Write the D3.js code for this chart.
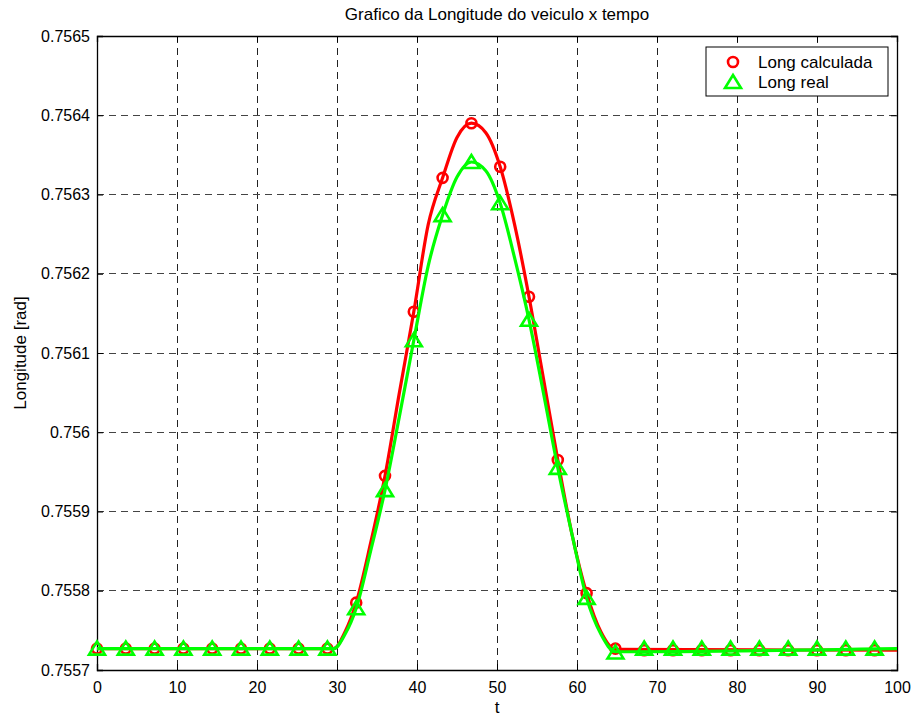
<!DOCTYPE html>
<html>
<head>
<meta charset="utf-8">
<script src="https://cdn.jsdelivr.net/npm/d3@7"></script>
<style>
  body { margin: 0; background: #fff; }
  text { font-family: "Liberation Sans", Arial, sans-serif; }
</style>
</head>
<body>
<div id="chart"></div>
<script>
// curve samples
var tCurve = [0, 29.6, 31, 32.4, 34.2, 36, 37.8, 39.6, 41.4, 43.2, 45, 46.8, 48.6, 50.4, 52.2, 54, 55.8, 57.6, 59.4, 61.2, 63, 64.8, 100];
var longCalc = [0.755727, 0.755727, 0.755748, 0.755785, 0.755860, 0.755945, 0.756050, 0.756152, 0.756262, 0.756321, 0.756372, 0.756390, 0.756378, 0.756335, 0.756262, 0.756171, 0.756068, 0.755965, 0.755870, 0.755797, 0.755748, 0.755726, 0.755725];
var longReal = [0.755727, 0.755727, 0.755745, 0.755778, 0.755850, 0.755927, 0.756020, 0.756116, 0.756210, 0.756274, 0.756322, 0.756341, 0.756330, 0.756289, 0.756220, 0.756142, 0.756050, 0.755955, 0.755870, 0.755791, 0.755745, 0.755723, 0.755727];

// marker positions
var tMarkers = [0, 3.6, 7.2, 10.8, 14.4, 18, 21.6, 25.2, 28.8, 32.4, 36, 39.6, 43.2, 46.8, 50.4, 54, 57.6, 61.2, 64.8, 68.4, 72, 75.6, 79.2, 82.8, 86.4, 90, 93.6, 97.2];
var calcMarkers = [0.755727, 0.755727, 0.755727, 0.755727, 0.755727, 0.755727, 0.755727, 0.755727, 0.755727, 0.755785, 0.755945, 0.756152, 0.756321, 0.756390, 0.756335, 0.756171, 0.755965, 0.755797, 0.755727, 0.755725, 0.755725, 0.755725, 0.755725, 0.755725, 0.755725, 0.755725, 0.755725, 0.755725];
var realMarkers = [0.755727, 0.755727, 0.755727, 0.755727, 0.755727, 0.755727, 0.755727, 0.755727, 0.755727, 0.755778, 0.755927, 0.756116, 0.756274, 0.756341, 0.756289, 0.756142, 0.755955, 0.755791, 0.755722, 0.755727, 0.755727, 0.755727, 0.755727, 0.755727, 0.755727, 0.755727, 0.755727, 0.755727];

var xTicks = [0, 10, 20, 30, 40, 50, 60, 70, 80, 90, 100];
var yTicks = [0.7557, 0.7558, 0.7559, 0.756, 0.7561, 0.7562, 0.7563, 0.7564, 0.7565];
var seriesNames = ["Long calculada", "Long real"];

var W = 915, H = 718;
var margin = {top: 36, right: 18, bottom: 48, left: 97};
var width = W - margin.left - margin.right,
    height = H - margin.top - margin.bottom;

var svg = d3.select("#chart").append("svg")
  .attr("width", W).attr("height", H);

var g = svg.append("g")
  .attr("transform", "translate(" + margin.left + "," + margin.top + ")");

var x = d3.scaleLinear().domain([0, 100]).range([0, width]);
var y = d3.scaleLinear().domain([0.7557, 0.7565]).range([height, 0]);

g.append("rect").attr("width", width).attr("height", height).attr("fill", "#fff");

// grid
g.selectAll(".gx").data(xTicks.slice(1, -1)).enter().append("line")
  .attr("x1", d => x(d)).attr("x2", d => x(d))
  .attr("y1", 0).attr("y2", height)
  .attr("stroke", "#222").attr("stroke-width", 1)
  .attr("stroke-dasharray", "7,5")
  .attr("shape-rendering", "crispEdges");
g.selectAll(".gy").data(yTicks.slice(1, -1)).enter().append("line")
  .attr("x1", 0).attr("x2", width)
  .attr("y1", d => y(d)).attr("y2", d => y(d))
  .attr("stroke", "#444").attr("stroke-width", 1)
  .attr("stroke-dasharray", "7,5")
  .attr("shape-rendering", "crispEdges");

// axes
var xAxis = g.append("g").attr("transform", "translate(0," + height + ")")
  .call(d3.axisBottom(x).tickValues(xTicks).tickSize(-6).tickPadding(12).tickFormat(d3.format("d")));
var yAxis = g.append("g")
  .call(d3.axisLeft(y).tickValues(yTicks).tickSize(-6).tickPadding(7).tickFormat(d => String(+d.toFixed(4))));
g.append("g").call(d3.axisTop(x).tickValues(xTicks).tickSize(-6).tickFormat(""));
g.append("g").attr("transform", "translate(" + width + ",0)")
  .call(d3.axisRight(y).tickValues(yTicks).tickSize(-6).tickFormat(""));

g.selectAll(".domain").attr("stroke", "#000").attr("stroke-width", 1.3);
g.selectAll(".tick line").attr("stroke", "#000");
g.selectAll(".tick text").attr("font-size", 16).attr("fill", "#000")
  .style("font-family", "'Liberation Sans', Arial, sans-serif");

// lines
var line = d3.line().x((d, i) => x(tCurve[i])).y(d => y(d)).curve(d3.curveMonotoneX);
var plot = g.append("g");

function drawCircles(vals) {
  plot.selectAll(null).data(vals).enter().append("circle")
    .attr("cx", (d, i) => x(tMarkers[i])).attr("cy", d => y(d))
    .attr("r", 5).attr("fill", "none")
    .attr("stroke", "#ff0000").attr("stroke-width", 2.6);
}
function triPath(cx, cy) {
  return "M" + (cx - 8) + "," + (cy + 6) + "L" + cx + "," + (cy - 7) + "L" + (cx + 8) + "," + (cy + 6) + "Z";
}
function drawTris(vals) {
  plot.selectAll(null).data(vals).enter().append("path")
    .attr("d", (d, i) => triPath(x(tMarkers[i]), y(d)))
    .attr("fill", "none")
    .attr("stroke", "#00ff00").attr("stroke-width", 2.6)
    .attr("stroke-linejoin", "miter");
}

plot.append("path").datum(longCalc).attr("d", line)
  .attr("fill", "none").attr("stroke", "#ff0000").attr("stroke-width", 3.2);
drawCircles(calcMarkers);
plot.append("path").datum(longReal).attr("d", line)
  .attr("fill", "none").attr("stroke", "#00ff00").attr("stroke-width", 3.2);
drawTris(realMarkers);

// title and labels
svg.append("text").attr("x", margin.left + width / 2).attr("y", 20)
  .attr("text-anchor", "middle").attr("font-size", 17)
  .text("Grafico da Longitude do veiculo x tempo");
svg.append("text").attr("x", margin.left + width / 2).attr("y", 713)
  .attr("text-anchor", "middle").attr("font-size", 17).text("t");
svg.append("text")
  .attr("transform", "translate(26," + (margin.top + height / 2) + ") rotate(-90)")
  .attr("text-anchor", "middle").attr("font-size", 17).text("Longitude [rad]");

// legend
var lg = svg.append("g").attr("transform", "translate(706,47)");
lg.append("rect").attr("width", 182).attr("height", 49)
  .attr("fill", "#fff").attr("stroke", "#000").attr("stroke-width", 1);
lg.append("circle").attr("cx", 27).attr("cy", 15).attr("r", 5)
  .attr("fill", "none").attr("stroke", "#ff0000").attr("stroke-width", 2.6);
lg.append("path").attr("d", triPath(27, 35))
  .attr("fill", "none").attr("stroke", "#00ff00").attr("stroke-width", 2.6);
lg.selectAll(".lt").data(seriesNames).enter().append("text")
  .attr("x", 52).attr("y", (d, i) => 21 + i * 20)
  .attr("font-size", 17).text(d => d);
</script>
</body>
</html>
